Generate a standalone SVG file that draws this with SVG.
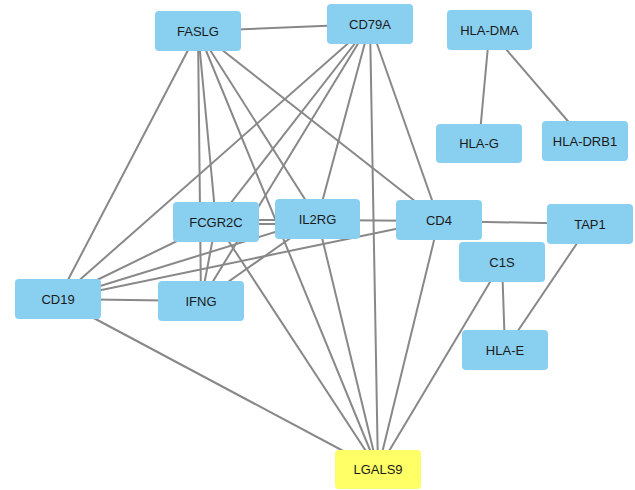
<svg xmlns="http://www.w3.org/2000/svg" width="635" height="490" viewBox="0 0 635 490">
<style>
.e{stroke:#888888;stroke-width:2;fill:none}
.n rect{fill:#89CFF0;stroke:none}
.n.y rect{fill:#FFFF66}
.n text{font-family:"Liberation Sans",Arial,sans-serif;font-size:13px;fill:#1a1a1a;text-anchor:middle}
</style>
<rect width="635" height="490" fill="#ffffff"/>
<g id="edges">
<line class="e" x1="198" y1="31" x2="370" y2="24"/>
<line class="e" x1="198" y1="31" x2="58" y2="299"/>
<line class="e" x1="198" y1="31" x2="201" y2="301"/>
<line class="e" x1="198" y1="31" x2="216" y2="222"/>
<line class="e" x1="198" y1="31" x2="317.5" y2="219"/>
<line class="e" x1="198" y1="31" x2="378" y2="469.5"/>
<line class="e" x1="198" y1="31" x2="439" y2="220"/>
<line class="e" x1="370" y1="24" x2="58" y2="299"/>
<line class="e" x1="370" y1="24" x2="216" y2="222"/>
<line class="e" x1="370" y1="24" x2="201" y2="301"/>
<line class="e" x1="370" y1="24" x2="317.5" y2="219"/>
<line class="e" x1="370" y1="24" x2="378" y2="469.5"/>
<line class="e" x1="370" y1="24" x2="439" y2="220"/>
<line class="e" x1="58" y1="299" x2="216" y2="222"/>
<line class="e" x1="58" y1="299" x2="317.5" y2="219"/>
<line class="e" x1="58" y1="299" x2="439" y2="220"/>
<line class="e" x1="58" y1="299" x2="201" y2="301"/>
<line class="e" x1="58" y1="299" x2="378" y2="469.5"/>
<line class="e" x1="216" y1="222" x2="201" y2="301"/>
<line class="e" x1="216" y1="220" x2="317.5" y2="220"/>
<line class="e" x1="216" y1="224" x2="317.5" y2="224"/>
<line class="e" x1="216" y1="222" x2="378" y2="469.5"/>
<line class="e" x1="201" y1="301" x2="317.5" y2="219"/>
<line class="e" x1="317.5" y1="220" x2="439" y2="221"/>
<line class="e" x1="317.5" y1="219" x2="378" y2="469.5"/>
<line class="e" x1="439" y1="220" x2="378" y2="469.5"/>
<line class="e" x1="439" y1="221" x2="590" y2="224"/>
<line class="e" x1="502" y1="262" x2="378" y2="469.5"/>
<line class="e" x1="502" y1="262" x2="505" y2="350"/>
<line class="e" x1="590" y1="224" x2="505" y2="350"/>
<line class="e" x1="489.5" y1="30" x2="479" y2="143.5"/>
<line class="e" x1="489.5" y1="30" x2="585" y2="141"/>
</g>
<g id="FASLG" class="n"><rect x="155" y="11" width="86" height="40" rx="4"/><text x="198" y="35.5">FASLG</text></g>
<g id="CD79A" class="n"><rect x="327" y="4" width="86" height="40" rx="4"/><text x="370" y="28.5">CD79A</text></g>
<g id="HLA-DMA" class="n"><rect x="447" y="10" width="85" height="40" rx="4"/><text x="489.5" y="34.5">HLA-DMA</text></g>
<g id="HLA-G" class="n"><rect x="436" y="124" width="86" height="39" rx="4"/><text x="479" y="148">HLA-G</text></g>
<g id="HLA-DRB1" class="n"><rect x="542" y="121" width="86" height="40" rx="4"/><text x="585" y="145.5">HLA-DRB1</text></g>
<g id="FCGR2C" class="n"><rect x="173" y="202" width="86" height="40" rx="4"/><text x="216" y="226.5">FCGR2C</text></g>
<g id="IL2RG" class="n"><rect x="275" y="199" width="85" height="40" rx="4"/><text x="317.5" y="223.5">IL2RG</text></g>
<g id="CD4" class="n"><rect x="396" y="200" width="86" height="40" rx="4"/><text x="439" y="224.5">CD4</text></g>
<g id="TAP1" class="n"><rect x="547" y="204" width="86" height="40" rx="4"/><text x="590" y="228.5">TAP1</text></g>
<g id="C1S" class="n"><rect x="459" y="242" width="86" height="40" rx="4"/><text x="502" y="266.5">C1S</text></g>
<g id="CD19" class="n"><rect x="15" y="279" width="86" height="40" rx="4"/><text x="58" y="303.5">CD19</text></g>
<g id="IFNG" class="n"><rect x="158" y="281" width="86" height="40" rx="4"/><text x="201" y="305.5">IFNG</text></g>
<g id="HLA-E" class="n"><rect x="462" y="330" width="86" height="40" rx="4"/><text x="505" y="354.5">HLA-E</text></g>
<g id="LGALS9" class="n y"><rect x="335" y="450" width="86" height="39" rx="4"/><text x="378" y="474">LGALS9</text></g>
</svg>
